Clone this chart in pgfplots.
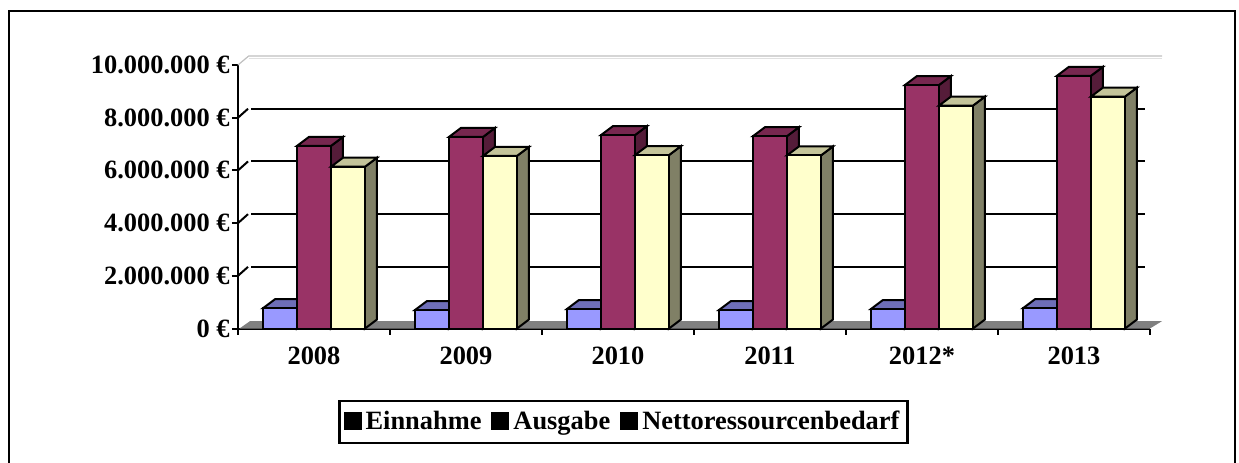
\documentclass[border=0pt]{standalone}
\usepackage{fontspec}
\setmainfont{Liberation Serif}
\usepackage{pgfplots}
\pgfplotsset{compat=1.18}

\definecolor{einF}{HTML}{9999FF}
\definecolor{einT}{HTML}{6E6EB8}
\definecolor{ausF}{HTML}{993366}
\definecolor{ausT}{HTML}{77274F}
\definecolor{ausS}{HTML}{551C39}
\definecolor{netF}{HTML}{FFFFCC}
\definecolor{netT}{HTML}{C4C49A}
\definecolor{netS}{HTML}{808066}

% 1 px of the reference = 0.5pt; x in category units (152 px), y in millions (26.35 px)
\def\barw{0.2237}
\def\depx{0.0789}
\def\depy{0.3416}

% one box: centre, value, front colour, top colour, side colour
\newcommand{\threedbar}[5]{%
  \pgfmathsetmacro{\xa}{#1-\barw/2}%
  \pgfmathsetmacro{\xb}{#1+\barw/2}%
  \pgfmathsetmacro{\xc}{\xa+\depx}%
  \pgfmathsetmacro{\xd}{\xb+\depx}%
  \pgfmathsetmacro{\yt}{#2+\depy}%
  \edef\temp{%
    \noexpand\addplot[forget plot,draw=black,line width=1pt,fill=#5]
      coordinates {(\xb,0) (\xd,\depy) (\xd,\yt) (\xb,#2)} -- cycle;
    \noexpand\addplot[forget plot,draw=black,line width=1pt,fill=#4]
      coordinates {(\xa,#2) (\xb,#2) (\xd,\yt) (\xc,\yt)} -- cycle;
    \noexpand\addplot[forget plot,draw=black,line width=1pt,fill=#3]
      coordinates {(\xa,0) (\xb,0) (\xb,#2) (\xa,#2)} -- cycle;
  }\temp
}
% one year: x of category centre, then the three values in millions
\newcommand{\yeargroup}[4]{%
  \pgfmathsetmacro{\pa}{#1-\barw}%
  \pgfmathsetmacro{\pb}{#1+\barw}%
  \threedbar{\pa}{#2}{einF}{einT}{einT}%
  \threedbar{#1}{#3}{ausF}{ausT}{ausS}%
  \threedbar{\pb}{#4}{netF}{netT}{netS}%
}

\begin{document}
\begin{tikzpicture}
\path[use as bounding box] (-119pt,-66.75pt) rectangle (500.5pt,164.25pt);
\clip (-119pt,-66.75pt) rectangle (500.5pt,164.25pt);
\draw[black,line width=1.3pt] (-114.5pt,-90pt) rectangle (498.5pt,158.7pt);
\begin{axis}[
  at={(0,0)}, anchor=south west,
  scale only axis, width=456pt, height=131.75pt,
  xmin=0, xmax=6, ymin=0, ymax=10,
  clip=false,
  axis x line*=bottom, axis y line*=left,
  axis line style={-,line width=1pt,black},
  tick align=outside,
  ytick={0,2,4,6,8,10},
  yticklabels={0 €,2.000.000 €,4.000.000 €,6.000.000 €,8.000.000 €,10.000.000 €},
  xtick={0.5,1.5,2.5,3.5,4.5,5.5},
  xticklabels={2008,2009,2010,2011,2012*,2013},
  minor xtick={0,1,2,3,4,5,6},
  major x tick style={draw=none},
  minor x tick style={line width=1pt,black},
  major y tick style={line width=1pt,black},
  minor tick length=3pt, major tick length=3pt,
  tick label style={font=\fontsize{13.2}{15}\selectfont\bfseries},
  yticklabel style={inner sep=0pt,xshift=-1pt},
  xticklabel style={inner sep=0pt,yshift=-6pt},
  legend columns=3,
  legend style={at={(0.4227,-0.355)},anchor=center,draw=black,line width=1.2pt,
    fill=white,font=\fontsize{13.2}{15}\selectfont\bfseries,
    inner xsep=2pt,inner ysep=3pt,
    /tikz/every even column/.style={column sep=3pt}},
  legend cell align=left,
  legend image code/.code={\draw[black,line width=1pt,#1] (0pt,-3.4pt) rectangle (8pt,4.6pt);},
]
% back wall and floor
\addplot[forget plot,draw=none,fill=gray] coordinates {(0.01,0) (0.079,0.28) (6.079,0.28) (6,0)} -- cycle;
\addplot[forget plot,draw=black!25,line width=0.6pt] coordinates {(0,10) (0.07,10.34) (6.08,10.34)};
\addplot[forget plot,draw=black!12,line width=0.5pt] coordinates {(0.07,10.26) (6.08,10.26)};
% grid lines on the back wall, with the short slanted stubs beside the ticks
\addplot[forget plot,black,line width=1pt] coordinates {(0.086,2.34) (5.97,2.34)};
\addplot[forget plot,black,line width=1pt] coordinates {(0.086,4.34) (5.97,4.34)};
\addplot[forget plot,black,line width=1pt] coordinates {(0.086,6.34) (5.97,6.34)};
\addplot[forget plot,black,line width=1pt] coordinates {(0.086,8.34) (5.97,8.34)};
\addplot[forget plot,black,line width=1pt] coordinates {(0,2) (0.066,2.34)};
\addplot[forget plot,black,line width=1pt] coordinates {(0,4) (0.066,4.34)};
\addplot[forget plot,black,line width=1pt] coordinates {(0,6) (0.066,6.34)};
\addplot[forget plot,black,line width=1pt] coordinates {(0,8) (0.066,8.34)};
% bars: Einnahme, Ausgabe, Nettoressourcenbedarf (million EUR)
\yeargroup{0.5}{0.77}{6.93}{6.14}
\yeargroup{1.5}{0.70}{7.27}{6.55}
\yeargroup{2.5}{0.74}{7.34}{6.58}
\yeargroup{3.5}{0.70}{7.30}{6.57}
\yeargroup{4.5}{0.74}{9.24}{8.46}
\yeargroup{5.5}{0.77}{9.59}{8.80}
\addlegendimage{fill=einF}\addlegendentry{Einnahme}
\addlegendimage{fill=ausF}\addlegendentry{Ausgabe}
\addlegendimage{fill=netF}\addlegendentry{Nettoressourcenbedarf}
\end{axis}
\end{tikzpicture}
\end{document}
